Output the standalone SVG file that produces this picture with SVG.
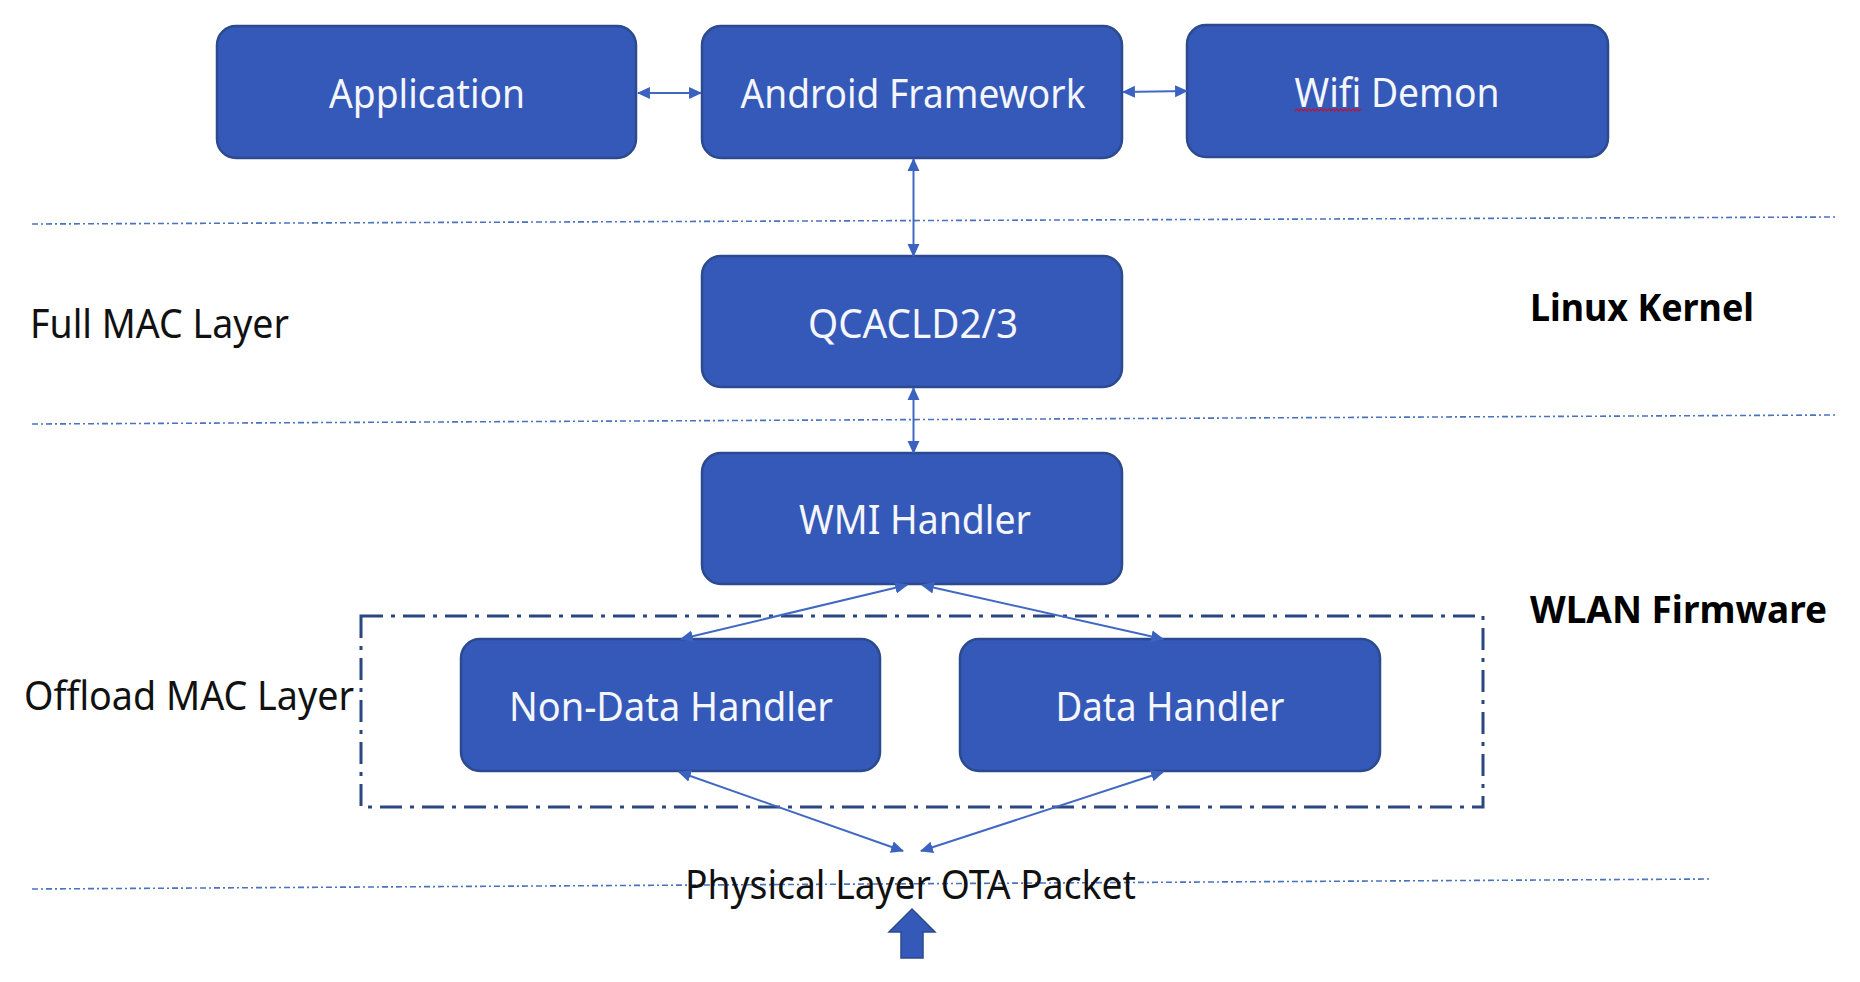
<svg xmlns="http://www.w3.org/2000/svg" width="1860" height="982" viewBox="0 0 1860 982">
  <defs>
    <style>
      .box { fill: #3459B9; stroke: #2C4A8E; stroke-width: 2.5; }
      .lbl { font-family: "Noto Sans", "Liberation Sans", sans-serif; font-size: 40px; fill: #F4F6FB; text-anchor: middle; }
      .side { font-family: "Noto Sans", "Liberation Sans", sans-serif; font-size: 40px; fill: #111111; }
      .bold { font-family: "Noto Sans", "Liberation Sans", sans-serif; font-size: 37px; font-weight: bold; fill: #000000; }
      .conn { stroke: #4169C2; stroke-width: 2; fill: none; marker-start: url(#ah); marker-end: url(#ah); }
      .sep { stroke: #4A72C0; stroke-width: 1.6; fill: none; stroke-dasharray: 6 3 2 3; }
      .group { fill: none; stroke: #2B4782; stroke-width: 3; stroke-dasharray: 22 8 4 8; }
    </style>
    <marker id="ah" viewBox="0 0 12 12" refX="11" refY="6" markerWidth="13" markerHeight="13" markerUnits="userSpaceOnUse" orient="auto-start-reverse">
      <path d="M0,0.5 L12,6 L0,11.5 Z" fill="#3A62BE"/>
    </marker>
  </defs>

  <rect width="1860" height="982" fill="#FFFFFF"/>

  <g id="separators">
    <line class="sep" x1="32" y1="224" x2="1836" y2="217"/>
    <line class="sep" x1="32" y1="424" x2="1836" y2="415"/>
    <line class="sep" x1="32" y1="889" x2="1712" y2="879"/>
  </g>

  <g id="offload-group">
    <rect class="group" x="361" y="616" width="1122" height="191"/>
  </g>

  <g id="side-labels">
    <text class="side" x="30" y="338" textLength="259" lengthAdjust="spacingAndGlyphs">Full MAC Layer</text>
    <text class="side" x="24" y="710" textLength="330" lengthAdjust="spacingAndGlyphs">Offload MAC Layer</text>
    <text class="bold" x="1530" y="321" textLength="224" lengthAdjust="spacingAndGlyphs">Linux Kernel</text>
    <text class="bold" x="1530" y="623" textLength="297" lengthAdjust="spacingAndGlyphs">WLAN Firmware</text>
  </g>

  <g id="node-application">
    <rect class="box" x="217" y="26" width="419" height="132" rx="19"/>
    <text class="lbl" x="427" y="108" textLength="196" lengthAdjust="spacingAndGlyphs">Application</text>
  </g>
  <g id="node-android-framework">
    <rect class="box" x="702" y="26" width="420" height="132" rx="19"/>
    <text class="lbl" x="913" y="108" textLength="345" lengthAdjust="spacingAndGlyphs">Android Framework</text>
  </g>
  <g id="node-wifi-demon">
    <rect class="box" x="1187" y="25" width="421" height="132" rx="19"/>
    <text class="lbl" x="1397" y="107" textLength="205" lengthAdjust="spacingAndGlyphs">Wifi Demon</text>
    <path d="M1295,111 l2,-2 l2,2 l2,-2 l2,2 l2,-2 l2,2 l2,-2 l2,2 l2,-2 l2,2 l2,-2 l2,2 l2,-2 l2,2 l2,-2 l2,2 l2,-2 l2,2 l2,-2 l2,2 l2,-2 l2,2 l2,-2 l2,2 l2,-2 l2,2 l2,-2 l2,2 l2,-2 l2,2 l2,-2 l2,2 l2,-2" fill="none" stroke="#C8102E" stroke-width="1.2"/>
  </g>
  <g id="node-qcacld">
    <rect class="box" x="702" y="256" width="420" height="131" rx="19"/>
    <text class="lbl" x="913" y="338" textLength="210" lengthAdjust="spacingAndGlyphs">QCACLD2/3</text>
  </g>
  <g id="node-wmi-handler">
    <rect class="box" x="702" y="453" width="420" height="131" rx="19"/>
    <text class="lbl" x="915" y="534" textLength="232" lengthAdjust="spacingAndGlyphs">WMI Handler</text>
  </g>
  <g id="node-non-data-handler">
    <rect class="box" x="461" y="639" width="419" height="132" rx="19"/>
    <text class="lbl" x="671" y="721" textLength="324" lengthAdjust="spacingAndGlyphs">Non-Data Handler</text>
  </g>
  <g id="node-data-handler">
    <rect class="box" x="960" y="639" width="420" height="132" rx="19"/>
    <text class="lbl" x="1170" y="721" textLength="229" lengthAdjust="spacingAndGlyphs">Data Handler</text>
  </g>

  <g id="node-physical-layer">
    <text class="side" x="685" y="899" textLength="451" lengthAdjust="spacingAndGlyphs">Physical Layer OTA Packet</text>
    <polygon points="912,909 935,932 923,932 923,958 901,958 901,932 889,932" fill="#3459B9" stroke="#2C4A8E" stroke-width="1.5"/>
  </g>

  <g id="connectors">
    <line class="conn" x1="638" y1="93" x2="701" y2="93"/>
    <line class="conn" x1="1123" y1="92" x2="1187" y2="91"/>
    <line class="conn" x1="913.5" y1="159" x2="913.5" y2="256"/>
    <line class="conn" x1="913.5" y1="388" x2="913.5" y2="453"/>
    <line class="conn" x1="907" y1="585" x2="681" y2="639"/>
    <line class="conn" x1="922" y1="585" x2="1163" y2="639"/>
    <line class="conn" x1="679" y1="772" x2="903" y2="851"/>
    <line class="conn" x1="1163" y1="772" x2="921" y2="851"/>
  </g>
</svg>
